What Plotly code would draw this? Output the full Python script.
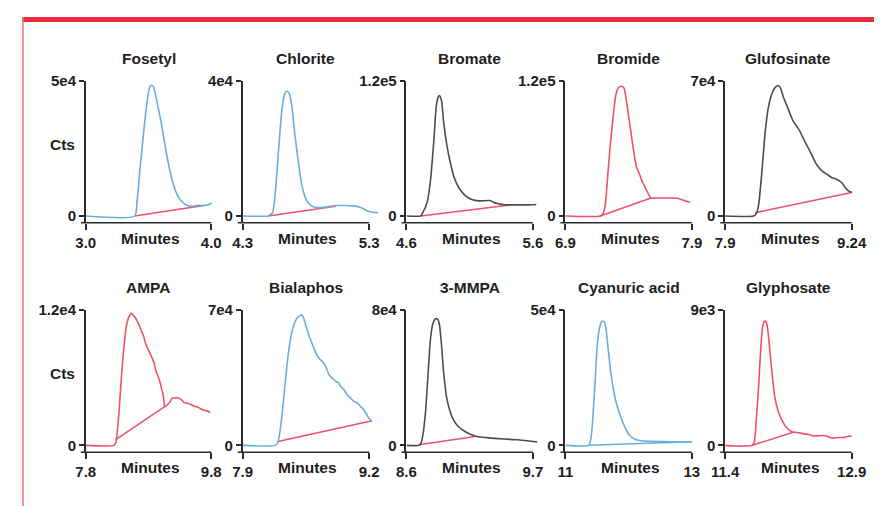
import plotly.graph_objects as go

W, H = 882, 506

# ---------------- data ----------------
titles = ["Fosetyl", "Chlorite", "Bromate", "Bromide", "Glufosinate",
          "AMPA", "Bialaphos", "3-MMPA", "Cyanuric acid", "Glyphosate"]
x_start = [3.0, 4.3, 4.6, 6.9, 7.9, 7.8, 7.9, 8.6, 11.0, 11.4]
x_end = [4.0, 5.3, 5.6, 7.9, 9.24, 9.8, 9.2, 9.7, 13.0, 12.9]
x_start_labels = ["3.0", "4.3", "4.6", "6.9", "7.9", "7.8", "7.9", "8.6", "11", "11.4"]
x_end_labels = ["4.0", "5.3", "5.6", "7.9", "9.24", "9.8", "9.2", "9.7", "13", "12.9"]
y_top = [5e4, 4e4, 1.2e5, 1.2e5, 7e4, 1.2e4, 7e4, 8e4, 5e4, 9e3]
y_top_labels = ["5e4", "4e4", "1.2e5", "1.2e5", "7e4", "1.2e4", "7e4", "8e4", "5e4", "9e3"]
signal_colors = ["blue", "blue", "gray", "red", "gray", "red", "blue", "gray", "blue", "red"]
baseline_colors = ["red", "red", "red", "red", "red", "red", "red", "red", "blue", "red"]

fosetyl_x = [3.0, 3.39, 3.408, 3.434, 3.46, 3.486, 3.504, 3.519, 3.538, 3.556, 3.577, 3.603, 3.629,
             3.655, 3.681, 3.706, 3.732, 3.758, 3.784, 3.81, 3.849, 3.888, 3.94, 3.979, 4.005]
fosetyl_y = [0, 0, 5070, 18400, 30400, 41300, 46700, 48300, 47900, 44700, 40100, 34000, 26800,
             20200, 14700, 10500, 7500, 5700, 4600, 3900, 3600, 3900, 3900, 4200, 4700]
fosetyl_base_x = [3.39, 3.94]
fosetyl_base_y = [0, 3900]

chlorite_x = [4.3, 4.501, 4.519, 4.537, 4.558, 4.584, 4.609, 4.63, 4.648, 4.666, 4.687, 4.712, 4.738,
              4.764, 4.79, 4.815, 4.841, 4.867, 4.919, 4.97, 5.035, 5.099, 5.176, 5.228, 5.279, 5.318, 5.37]
chlorite_y = [0, 0, 390, 970, 6960, 19500, 31100, 35900, 36900, 36400, 33000, 24300, 16600,
              9850, 5990, 4060, 3090, 2610, 2510, 2700, 3090, 3090, 3000, 2610, 1640, 1160, 970]
chlorite_base_x = [4.501, 5.035]
chlorite_base_y = [0, 2900]

bromate_x = [4.6, 4.712, 4.725, 4.764, 4.791, 4.817, 4.835, 4.851, 4.861, 4.877, 4.895, 4.921, 4.947,
             4.973, 5.013, 5.065, 5.117, 5.169, 5.261, 5.287, 5.326, 5.378, 5.43, 5.509, 5.587, 5.626]
bromate_y = [0, 0, 2040, 12200, 32600, 67600, 96700, 105500, 106900, 102500, 82100, 61800, 47200,
             35500, 25300, 18100, 14600, 13400, 13700, 12200, 10800, 9900, 9900, 9900, 9900, 10200]
bromate_base_x = [4.712, 5.43]
bromate_base_y = [0, 9900]

bromide_x = [6.9, 7.176, 7.197, 7.215, 7.233, 7.254, 7.28, 7.3, 7.319, 7.344, 7.363, 7.383, 7.409,
             7.435, 7.461, 7.487, 7.512, 7.551, 7.577, 7.616, 7.667, 7.745, 7.784, 7.822, 7.861, 7.887]
bromide_y = [0, 0, 2030, 9280, 32500, 61500, 90400, 107800, 113600, 115100, 113600, 102000, 81800,
             61500, 44100, 36800, 29600, 20900, 15900, 15900, 15900, 15900, 15700, 14500, 12800, 12200]
bromide_base_x = [7.176, 7.577]
bromide_base_y = [0, 15900]

glufosinate_x = [7.9, 8.201, 8.229, 8.253, 8.288, 8.322, 8.357, 8.392, 8.426, 8.461, 8.485, 8.513,
                 8.547, 8.582, 8.617, 8.651, 8.686, 8.72, 8.755, 8.79, 8.825, 8.859, 8.894, 8.928,
                 8.98, 9.032, 9.084, 9.136, 9.171, 9.205, 9.24]
glufosinate_y = [0, 0, 1180, 5410, 22300, 42600, 56100, 62900, 66300, 67500, 66300, 62100,
                 57800, 53600, 49400, 46800, 44300, 40900, 37500, 34200, 30800, 27400, 24900, 23200,
                 21500, 19800, 18900, 17200, 14700, 13000, 12200]
glufosinate_base_x = [8.219, 9.24]
glufosinate_base_y = [1700, 12200]

ampa_x = [7.8, 8.252, 8.278, 8.319, 8.356, 8.397, 8.434, 8.46, 8.496, 8.527, 8.564, 8.6, 8.642,
          8.694, 8.719, 8.745, 8.787, 8.823, 8.86, 8.891, 8.912, 8.943, 8.979, 9.005, 9.031, 9.047,
          9.057, 9.109, 9.151, 9.171, 9.223, 9.265, 9.317, 9.369, 9.447, 9.525, 9.577, 9.629,
          9.681, 9.732, 9.784]
ampa_y = [0, 0, 204, 2185, 5100, 8010, 10050, 10920, 11510, 11710, 11510, 11220, 10780,
          10050, 9760, 9180, 8590, 8160, 7720, 7280, 6700, 6260, 5680, 5100, 4520, 3930,
          3440, 3640, 3930, 4170, 4220, 4220, 4080, 3790, 3700, 3500, 3410, 3260,
          3120, 3060, 2910]
ampa_base_x = [8.278, 9.057]
ampa_base_y = [500, 3440]

bialaphos_x = [7.9, 8.235, 8.262, 8.285, 8.319, 8.352, 8.386, 8.419, 8.453, 8.486, 8.51, 8.53, 8.553,
               8.587, 8.62, 8.654, 8.687, 8.721, 8.754, 8.788, 8.821, 8.855, 8.888, 8.905, 8.939,
               8.972, 9.006, 9.039, 9.073, 9.106, 9.14, 9.173, 9.207, 9.23]
bialaphos_y = [0, 0, 1700, 7650, 22900, 39900, 53500, 61200, 65400, 67100, 67500, 65400, 61200,
               56100, 51800, 47600, 45000, 43300, 40800, 36500, 34800, 33100, 32300, 30600, 28900,
               26300, 24600, 22900, 22100, 20400, 18700, 16100, 13300, 12700]
bialaphos_base_x = [8.262, 9.23]
bialaphos_base_y = [2040, 12700]

mmpa_x = [8.6, 8.709, 8.723, 8.743, 8.766, 8.789, 8.809, 8.829, 8.851, 8.871, 8.886, 8.903, 8.923,
          8.951, 8.98, 9.009, 9.051, 9.109, 9.166, 9.223, 9.28, 9.337, 9.451, 9.566, 9.651, 9.737]
mmpa_y = [0, 0, 780, 6260, 19950, 43400, 63000, 71800, 74700, 74700, 71800, 61000, 43400,
          27800, 19950, 15100, 11150, 8200, 6260, 5090, 4690, 4300, 3720, 3330, 2740, 1960]
mmpa_base_x = [8.709, 9.194]
mmpa_base_y = [300, 5200]

cyanuric_x = [11.0, 11.372, 11.398, 11.424, 11.465, 11.501, 11.543, 11.579, 11.62, 11.646, 11.682,
              11.724, 11.775, 11.827, 11.879, 11.93, 11.982, 12.034, 12.111, 12.214, 12.37, 12.628,
              12.835, 13.0]
cyanuric_y = [0, 0, 1820, 6680, 21250, 35800, 43700, 45900, 45500, 42500, 34600,
              26100, 18800, 13960, 10300, 7280, 4860, 3280, 2190, 1700, 1460, 1340,
              1210, 1210]
cyanuric_base_x = [11.372, 13.0]
cyanuric_base_y = [0, 1300]

glyphosate_x = [11.4, 11.505, 11.621, 11.718, 11.745, 11.768, 11.795, 11.822, 11.846, 11.865, 11.884,
                11.904, 11.931, 11.958, 11.989, 12.028, 12.067, 12.125, 12.183, 12.222, 12.28,
                12.338, 12.396, 12.435, 12.493, 12.551, 12.609, 12.648, 12.687, 12.745, 12.803,
                12.861, 12.9]
glyphosate_y = [0, -44, -44, 0, 218, 1640, 3820, 6440, 7970, 8260, 8230,
                7750, 6220, 4700, 3170, 2290, 1750, 1200, 917, 874, 830,
                764, 721, 633, 633, 655, 611, 502, 480, 524, 524,
                611, 590]
glyphosate_base_x = [11.729, 12.206]
glyphosate_base_y = [20, 874]

signals_x = [fosetyl_x, chlorite_x, bromate_x, bromide_x, glufosinate_x,
             ampa_x, bialaphos_x, mmpa_x, cyanuric_x, glyphosate_x]
signals_y = [fosetyl_y, chlorite_y, bromate_y, bromide_y, glufosinate_y,
             ampa_y, bialaphos_y, mmpa_y, cyanuric_y, glyphosate_y]
bases_x = [fosetyl_base_x, chlorite_base_x, bromate_base_x, bromide_base_x, glufosinate_base_x,
           ampa_base_x, bialaphos_base_x, mmpa_base_x, cyanuric_base_x, glyphosate_base_x]
bases_y = [fosetyl_base_y, chlorite_base_y, bromate_base_y, bromide_base_y, glufosinate_base_y,
           ampa_base_y, bialaphos_base_y, mmpa_base_y, cyanuric_base_y, glyphosate_base_y]

# ---------------- styling / layout ----------------
COLORS = {"blue": "#6aaede", "gray": "#4d4d4d", "red": "#f0506a"}
AXIS_COLOR = "#2b2b2b"
TEXT_COLOR = "#1e1e1e"
FONT = "Liberation Sans"
TICK_SIZE = 15
LABEL_SIZE = 15.5

# the page shows the figure 8px in from the window corner; lay out in window px
OFF = 8
col_left = [73 - OFF, 233 - OFF, 400 - OFF, 562 - OFF, 725 - OFF]     # y-axis
col_right = [201 - OFF, 362 - OFF, 529 - OFF, 691 - OFF, 854 - OFF]   # last x tick
row_top = [73 - OFF, 307 - OFF]                                       # top y tick
row_axis = [218 - OFF, 452 - OFF]                                     # x-axis line
zero_off = 7
pad_px = 12

fig = go.Figure()
shapes = []
annotations = []

for i in range(10):
    r, c = divmod(i, 5)
    n = i + 1
    xs, xe = x_start[i], x_end[i]
    L, R = col_left[c], col_right[c]
    T, B = row_top[r], row_axis[r]
    xr1 = xe + pad_px * (xe - xs) / (R - L)
    ymin = -y_top[i] * zero_off / (B - zero_off - T)
    xa = "x" if n == 1 else f"x{n}"
    ya = "y" if n == 1 else f"y{n}"

    fig.add_trace(go.Scatter(x=bases_x[i], y=bases_y[i], mode="lines",
                             line=dict(color=COLORS[baseline_colors[i]], width=1.5),
                             xaxis=xa, yaxis=ya, showlegend=False, hoverinfo="skip"))
    fig.add_trace(go.Scatter(x=signals_x[i], y=signals_y[i], mode="lines",
                             line=dict(color=COLORS[signal_colors[i]], width=1.6,
                                       shape="spline", smoothing=0.6),
                             xaxis=xa, yaxis=ya, showlegend=False))

    xkey = "xaxis" if n == 1 else f"xaxis{n}"
    ykey = "yaxis" if n == 1 else f"yaxis{n}"
    fig.layout[xkey] = dict(
        domain=[L / W, (R + pad_px) / W], range=[xs, xr1], anchor=ya,
        showgrid=False, zeroline=False, showline=False,
        tickmode="array", tickvals=[xs, xe], ticktext=[x_start_labels[i], x_end_labels[i]],
        ticks="outside", ticklen=6, tickwidth=1.5, tickcolor=AXIS_COLOR,
        tickfont=dict(family=FONT, size=TICK_SIZE, color=TEXT_COLOR, weight="bold"),
        fixedrange=True)
    fig.layout[ykey] = dict(
        domain=[1 - B / H, 1 - T / H], range=[ymin, y_top[i]], anchor=xa,
        showgrid=False, zeroline=False, showline=True, linecolor=AXIS_COLOR, linewidth=1.5,
        tickmode="array", tickvals=[0, y_top[i]], ticktext=["0", y_top_labels[i]],
        ticks="outside", ticklen=5, tickwidth=1.5, tickcolor=AXIS_COLOR,
        tickfont=dict(family=FONT, size=TICK_SIZE, color=TEXT_COLOR, weight="bold"),
        fixedrange=True)

    # x-axis line: starts a little left of the y-axis, ends at the last tick
    shapes.append(dict(type="line", xref="paper", yref="paper", x0=(L - 5) / W, x1=R / W,
                       y0=1 - B / H, y1=1 - B / H, line=dict(color=AXIS_COLOR, width=1.5)))

    mid = (L + R) / 2
    annotations.append(dict(text=titles[i], x=mid / W, y=1 - (T - 23) / H, xref="paper", yref="paper",
                            showarrow=False, xanchor="center", yanchor="middle",
                            font=dict(family=FONT, size=LABEL_SIZE, color=TEXT_COLOR, weight="bold")))
    annotations.append(dict(text="Minutes", x=(mid + 2) / W, y=1 - (B + 16) / H, xref="paper",
                            yref="paper", showarrow=False, xanchor="center", yanchor="middle",
                            font=dict(family=FONT, size=LABEL_SIZE, color=TEXT_COLOR, weight="bold")))
    if c == 0:
        annotations.append(dict(text="Cts", x=(49 - OFF) / W, y=1 - (T + 65) / H, xref="paper",
                                yref="paper", showarrow=False, xanchor="center", yanchor="middle",
                                font=dict(family=FONT, size=LABEL_SIZE, color=TEXT_COLOR, weight="bold")))

# red frame: top bar and thin left rule
shapes.append(dict(type="rect", xref="paper", yref="paper", x0=0, x1=1, y0=1 - 5 / H, y1=1,
                   fillcolor="#ee2d3b", line=dict(width=0), layer="above"))
shapes.append(dict(type="line", xref="paper", yref="paper", x0=1 / W, x1=1 / W, y0=0, y1=1,
                   line=dict(color="#f27482", width=1.5), layer="above"))

fig.update_layout(width=W, height=H, margin=dict(l=0, r=0, t=0, b=0),
                  paper_bgcolor="white", plot_bgcolor="white",
                  shapes=shapes, annotations=annotations)

fig.write_html("out.html", config={"displayModeBar": False})
